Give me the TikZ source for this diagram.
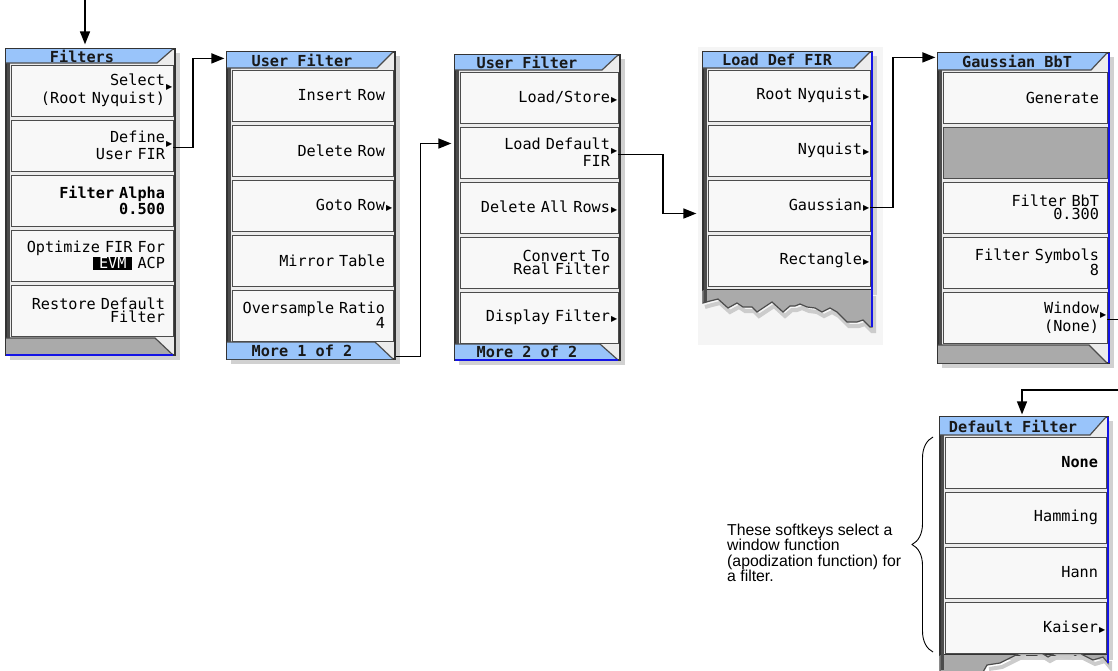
\documentclass[tikz,border=0pt]{standalone}
\usepackage{fontspec}
\setmainfont{Liberation Sans}
\newfontfamily\keyfont{DejaVu Sans Mono}
\newfontfamily\symfont{DejaVu Sans}
\usetikzlibrary{arrows.meta, positioning, fit, decorations.pathreplacing}
\definecolor{fkblue}{RGB}{153,196,250}
\definecolor{fkgray}{RGB}{170,170,170}
\definecolor{fkkey}{RGB}{248,248,248}
\definecolor{fkpanel}{RGB}{236,236,236}
\definecolor{fkedge}{RGB}{20,20,230}
\setlength{\fboxsep}{1pt}
\newcommand{\subm}{\rlap{\kern1pt{\symfont\fontsize{8}{8}\selectfont ▶}}}

\begin{document}
\begin{tikzpicture}[x=1pt, y=-1pt,
    panel/.style={draw=black!80, line width=1.2pt, fill=fkpanel, inner sep=0pt},
    key/.style={draw=black!70, line width=0.9pt, fill=fkkey, minimum height=51pt, inner xsep=8pt, inner ysep=0pt, outer sep=0pt, align=right, font=\keyfont\fontsize{15.2}{13}\selectfont},
    keyb/.style={key, font=\keyfont\fontsize{15.2}{13}\selectfont\bfseries},
    blank/.style={key, fill=fkgray},
    ttl/.style={font=\keyfont\fontsize{15.2}{14}\selectfont\bfseries, text=black!90, inner sep=0pt},
    rim/.style={draw=black!70, line width=1.2pt},
    stripe/.style={black!70, line width=2.5pt},
    dropsh/.style={fill=black!18},
    blueline/.style={fkedge, line width=1.5pt},
    arr/.style={-{Triangle[length=13pt, width=10pt]}, line width=1.4pt},
    brc/.style={decorate, decoration={brace, amplitude=21pt}, line width=0.9pt},
    note/.style={align=left, inner sep=0pt, font=\fontsize{15.8}{15.4}\selectfont}
  ]
  \useasboundingbox (0,0) rectangle (1118,670);
  \fill[black!4] (698,47) rectangle (883,345);

  % panel frames and title bars
  \foreach \n/\L/\T/\tb/\R/\B in {1/6/49/63/175/355, 2/227/52/68/395/359, 3/455/55/70/620/360,
      4/703/52/68/872/290, 5/938/53/70/1109/363, 6/940/417/435/1108/655}{
    \fill[dropsh] (\L+4,\T+4) rectangle (\R+5,\B+5);
    \node[panel, fit={(\L,\T) (\R,\B)}] (p\n) {};
    \fill[fkblue] (\L,\T) -- (\R-2,\T) -- (\R-18,\tb) -- (\L,\tb) -- cycle;
    \draw[rim] (\L,\tb) -- (\R-18,\tb) -- (\R-2,\T);
    \draw[stripe] (\L+2.5,\tb) -- (\L+2.5,\B);
  }

  % torn bottoms
  \draw[black!20, line width=4pt, shift={(2,4)}] plot coordinates {(703,303) (710,301) (718,299) (728,308) (737,303) (743,307) (752,307) (757,312) (763,308) (772,302) (783,312) (790,306) (795,306) (800,304) (807,307) (815,308) (822,312) (830,308) (837,312) (847,322) (857,322) (863,320) (870,327) (872,327) (872,292)};
  \filldraw[fill=fkgray, rim] (703,290) -- plot coordinates {(703,303) (710,301) (718,299) (728,308) (737,303) (743,307) (752,307) (757,312) (763,308) (772,302) (783,312) (790,306) (795,306) (800,304) (807,307) (815,308) (822,312) (830,308) (837,312) (847,322) (857,322) (863,320) (870,327) (872,327)} -- (872,290);
  \draw[stripe] (705.5,290) -- (705.5,302);
  \draw[black!20, line width=4pt, shift={(2,4)}] plot coordinates {(987,665) (1000,663) (1010,658) (1020,653) (1027,645) (1037,650) (1048,657) (1057,652) (1067,653) (1073,648) (1083,655) (1093,660) (1103,657) (1108,663) (1108,657)};
  \filldraw[fill=fkgray, rim] (940,655) -- (940,672) -- plot coordinates {(983,672) (987,665) (1000,663) (1010,658) (1020,653) (1027,645) (1037,650) (1048,657) (1057,652) (1067,653) (1073,648) (1083,655) (1093,660) (1103,657) (1108,663)} -- (1108,655);
  \draw[stripe] (942.5,655) -- (942.5,670);

  % titles
  \node[ttl] (t1) at (82,56) {Filters};
  \node[ttl] (t2) at (302,60) {User Filter};
  \node[ttl] (t3) at (527,62) {User Filter};
  \node[ttl] (t4) at (777,60) {Load Def FIR};
  \node[ttl] (t5) at (1017,61) {Gaussian BbT};
  \node[ttl] (t6) at (1013,426) {Default Filter};

  % softkeys
  \begin{scope}[key/.append style={text width=146pt}]
    \node[key, anchor=north west] (k11) at (11,65) {Select\raisebox{-4pt}{\subm}\\(Root Nyquist)};
    \node[key, below=4pt of k11] (k12) {Define\raisebox{-4pt}{\subm}\\User FIR};
    \node[keyb, below=4pt of k12] (k13) {Filter Alpha\\0.500};
    \node[key, below=4pt of k13] (k14) {Optimize FIR For\\\colorbox{black}{\textcolor{white}{\kern5pt EVM\kern5pt}}\ ACP\hspace*{9pt}};
    \node[key, below=4pt of k14] (k15) {Restore Default\\Filter};
  \end{scope}
  \begin{scope}[key/.append style={text width=145pt}]
    \node[key, anchor=north west] (k21) at (232,70) {Insert Row};
    \node[key, below=4pt of k21] (k22) {Delete Row};
    \node[key, below=4pt of k22] (k23) {Goto Row\subm};
    \node[key, below=4pt of k23] (k24) {Mirror Table};
    \node[key, below=4pt of k24] (k25) {Oversample Ratio\\4};
  \end{scope}
  \begin{scope}[key/.append style={text width=142pt}]
    \node[key, anchor=north west] (k31) at (460,72) {Load/Store\subm};
    \node[key, below=4pt of k31] (k32) {Load Default\raisebox{-4pt}{\subm}\\FIR};
    \node[key, below=4pt of k32] (k33) {Delete All Rows\subm};
    \node[key, below=4pt of k33] (k34) {Convert To\\Real Filter};
    \node[key, below=4pt of k34] (k35) {Display Filter\subm};
  \end{scope}
  \begin{scope}[key/.append style={text width=146pt}]
    \node[key, anchor=north west] (k41) at (708,70) {Root Nyquist\subm};
    \node[key, below=4pt of k41] (k42) {Nyquist\subm};
    \node[key, below=4pt of k42] (k43) {Gaussian\subm};
    \node[key, below=4pt of k43] (k44) {Rectangle\subm};
  \end{scope}
  \begin{scope}[key/.append style={text width=148pt}]
    \node[key, anchor=north west] (k51) at (943,72) {Generate};
    \node[blank, below=4pt of k51] (k52) {};
    \node[key, below=4pt of k52] (k53) {Filter BbT\\0.300};
    \node[key, below=4pt of k53] (k54) {Filter Symbols\\8};
    \node[key, below=4pt of k54] (k55) {Window\raisebox{-4pt}{\subm}\\(None)};
  \end{scope}
  \begin{scope}[key/.append style={text width=145pt}]
    \node[keyb, anchor=north west] (k61) at (945,437) {None};
    \node[key, below=4pt of k61] (k62) {Hamming};
    \node[key, below=4pt of k62] (k63) {Hann};
    \node[key, below=4pt of k63] (k64) {Kaiser\subm};
  \end{scope}

  % bottom bars
  \foreach \L/\Y/\R/\B/\c in {6/338/175/355/fkgray, 227/342/395/359/fkblue, 455/344/620/360/fkblue, 938/345/1109/363/fkgray}{
    \fill[\c] (\L,\Y) -- (\R-20,\Y) -- (\R-2,\B) -- (\L,\B) -- cycle;
    \draw[rim] (\L,\Y) -- (\R-20,\Y) -- (\R-2,\B);
  }
  \node[ttl] (m2) at (302,351) {More 1 of 2};
  \node[ttl] (m3) at (527,352) {More 2 of 2};
  \draw[blueline] (6,355) -- (173,355);
  \draw[blueline] (455,360) -- (618,360);
  \draw[blueline] (872,52) -- (872,327);
  \draw[blueline] (1109,53) -- (1109,363);
  \draw[blueline] (1108,417) -- (1108,663);

  % menu links
  \coordinate (entry) at (85,0);
  \coordinate (drop) at (1022,390);
  \draw[arr, shorten >=4pt] (entry) -- (entry |- p1.north);
  \draw[arr, shorten >=2pt] ([yshift=-2pt]k12.east) -- ++(20,0) |- ([yshift=-7pt]p2.north west);
  \draw[arr, shorten >=3pt] ([yshift=3pt]p2.south east) -- ++(25,0) |- ([yshift=9pt]k32.west -| p3.west);
  \draw[arr, shorten >=6pt] ([yshift=-2pt]k32.east) -- ++(45,0) |- ([yshift=-8pt]k43.west -| p4.west);
  \draw[arr, shorten >=2pt] ([yshift=-2pt]k43.east) -- ++(23,0) |- ([yshift=-5pt]p5.north west);
  \draw[arr, shorten >=2pt] ([yshift=-2pt]k55.east) -- ++(14,0) |- (drop) -- (drop |- p6.north);

  % callout
  \draw[brc] (933,652) -- (933,437);
  \node[note, anchor=west] (note) at (727,553) {These softkeys select a\\window function\\(apodization function) for\\a filter.};
\end{tikzpicture}
\end{document}
